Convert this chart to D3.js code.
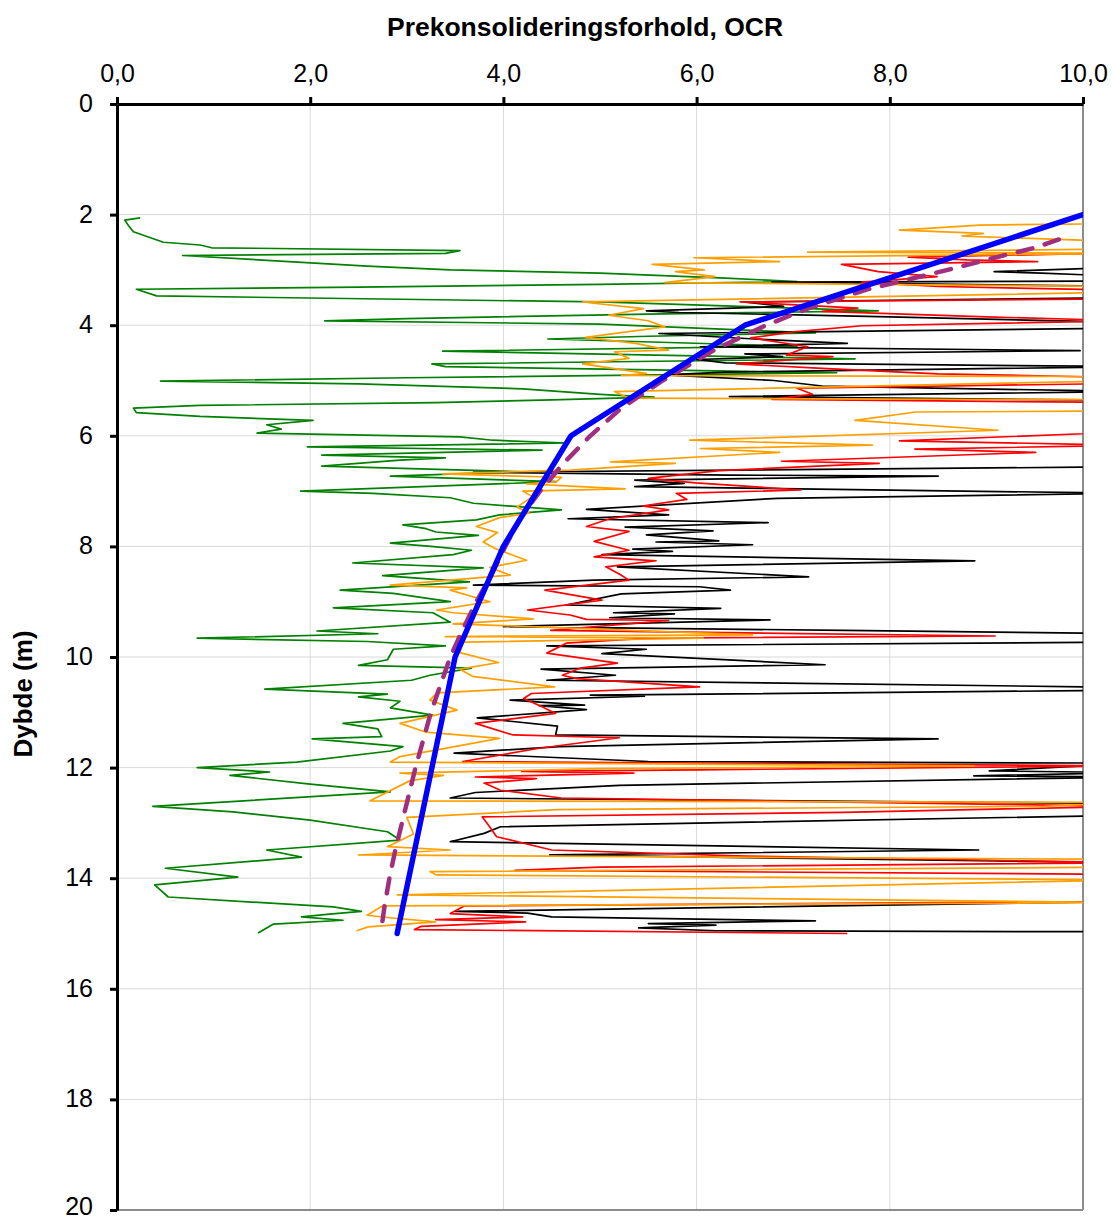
<!DOCTYPE html>
<html>
<head>
<meta charset="utf-8">
<script src="https://cdn.jsdelivr.net/npm/d3@7"></script>
<style>
  html, body { margin: 0; padding: 0; background: #fff; }
  svg { display: block; font-family: "Liberation Sans", Arial, sans-serif; }
</style>
</head>
<body>
<svg id="chart" width="1113" height="1220"></svg>
<script>
// ---- Data: [depth (m), OCR] ----
const ocrTicks = [0, 2, 4, 6, 8, 10];
const ocrTickLabels = ["0,0", "2,0", "4,0", "6,0", "8,0", "10,0"];
const depthTicks = [0, 2, 4, 6, 8, 10, 12, 14, 16, 18, 20];

const green = [
[2.06,0.24],[2.1,0.08],[2.2,0.12],[2.31,0.17],[2.5,0.48],[2.55,0.86],[2.6,0.98],[2.65,3.55],[2.7,3.4],[2.74,0.68],[2.93,2.59],[3.0,3.45],[3.06,5.0],[3.15,6.3],[3.21,7.04],[3.26,5.0],[3.31,2.5],[3.35,0.2],[3.47,0.41],[3.58,5.0],[3.74,7.88],[3.8,5.5],[3.88,3.0],[3.92,2.15],[3.98,5.0],[4.14,7.23],[4.2,5.5],[4.25,4.46],[4.38,7.04],[4.47,3.37],[4.61,7.64],[4.7,3.26],[4.75,3.4],[4.86,7.45],[4.95,3.0],[5.01,0.45],[5.06,2.5],[5.15,4.2],[5.25,5.0],[5.3,5.56],[5.35,4.5],[5.4,3.3],[5.45,0.86],[5.5,0.17],[5.58,0.2],[5.65,0.86],[5.72,2.03],[5.8,1.55],[5.88,1.7],[5.95,1.45],[6.02,3.55],[6.08,3.89],[6.13,4.66],[6.2,1.97],[6.26,4.4],[6.35,2.12],[6.4,3.4],[6.44,2.93],[6.55,2.12],[6.65,4.2],[6.73,2.83],[6.83,4.55],[7.0,1.9],[7.04,2.65],[7.12,3.45],[7.22,3.69],[7.34,4.6],[7.43,3.96],[7.52,3.72],[7.61,2.96],[7.68,3.2],[7.74,3.3],[7.8,3.74],[7.94,2.83],[8.0,3.25],[8.07,3.67],[8.15,3.48],[8.3,2.44],[8.39,3.79],[8.53,2.75],[8.64,3.65],[8.79,2.31],[8.85,2.86],[9.0,3.45],[9.11,2.24],[9.2,3.27],[9.37,3.45],[9.53,2.07],[9.58,2.7],[9.66,0.83],[9.72,2.59],[9.8,3.4],[9.86,2.86],[10.05,2.8],[10.15,2.5],[10.2,3.67],[10.33,3.24],[10.42,3.05],[10.58,1.53],[10.67,2.8],[10.72,2.5],[10.8,2.93],[10.92,2.83],[11.05,3.27],[11.2,2.34],[11.3,2.7],[11.44,2.74],[11.48,2.02],[11.62,2.96],[11.7,2.83],[11.9,1.86],[12.0,0.83],[12.08,1.58],[12.14,1.17],[12.3,2.0],[12.44,2.83],[12.7,0.37],[12.8,1.2],[12.95,2.0],[13.16,2.8],[13.31,2.93],[13.49,1.55],[13.62,1.91],[13.82,0.5],[13.98,1.25],[14.12,0.39],[14.34,0.53],[14.52,2.24],[14.6,2.53],[14.65,2.2],[14.7,1.91],[14.76,2.34],[14.83,1.62],[14.99,1.46]
];

const orange = [
[2.16,10.5],[2.19,8.93],[2.28,8.1],[2.34,8.97],[2.39,8.75],[2.46,9.97],[2.52,10.5],[2.62,10.5],[2.68,7.15],[2.7,10.5],[2.78,5.97],[2.85,6.86],[2.9,5.54],[3.0,6.08],[3.03,5.78],[3.12,6.19],[3.23,5.67],[3.3,10.5],[3.4,10.5],[3.58,4.82],[3.7,5.45],[3.82,5.09],[3.92,5.5],[4.03,5.67],[4.22,4.85],[4.33,5.37],[4.45,5.71],[4.48,5.15],[4.6,5.3],[4.7,4.82],[4.87,5.48],[4.91,5.22],[4.93,10.5],[5.0,10.5],[5.2,5.15],[5.32,5.3],[5.35,10.5],[5.55,10.5],[5.57,8.27],[5.72,7.64],[5.9,9.12],[6.08,5.93],[6.17,7.82],[6.23,6.04],[6.3,6.86],[6.47,5.11],[6.5,5.78],[6.62,4.69],[6.69,3.37],[6.75,4.6],[6.83,4.55],[6.87,4.24],[6.96,5.26],[7.0,4.2],[7.1,4.3],[7.29,4.14],[7.4,4.27],[7.48,3.96],[7.64,3.72],[7.75,3.94],[7.92,3.79],[8.05,3.93],[8.25,4.24],[8.38,3.86],[8.52,4.07],[8.7,2.83],[8.75,3.62],[8.79,3.45],[9.0,3.86],[9.15,3.31],[9.2,3.48],[9.31,4.31],[9.4,3.48],[9.44,4.14],[9.6,6.58],[9.63,3.4],[9.66,6.07],[9.73,3.58],[9.92,3.55],[10.1,3.95],[10.22,3.55],[10.35,3.68],[10.54,4.53],[10.65,3.31],[10.78,3.24],[10.96,3.52],[11.2,2.93],[11.36,3.2],[11.47,3.96],[11.8,2.93],[11.9,2.83],[11.97,8.87],[12.02,5.0],[12.1,2.93],[12.14,3.38],[12.24,3.03],[12.6,2.62],[12.63,10.5],[12.7,9.6],[12.76,4.56],[12.9,3.0],[13.2,3.07],[13.43,2.8],[13.49,3.45],[13.58,2.5],[13.66,10.5],[13.8,10.5],[13.88,3.24],[13.94,3.3],[14.03,10.5],[14.3,2.9],[14.44,10.5],[14.5,2.75],[14.67,2.59],[14.72,2.85],[14.79,3.3],[14.88,2.6],[14.95,2.48]
];

const red = [
[2.69,10.5],[2.77,8.19],[2.82,8.8],[2.85,9.53],[2.9,7.5],[3.03,7.88],[3.12,8.49],[3.22,7.71],[3.3,8.5],[3.37,10.5],[3.52,10.5],[3.58,6.45],[3.69,7.67],[3.75,7.3],[3.85,9.0],[3.92,10.5],[4.01,7.71],[4.12,7.0],[4.23,6.56],[4.39,7.15],[4.54,6.93],[4.57,7.41],[4.7,6.41],[4.78,7.3],[4.88,8.5],[4.95,10.5],[5.05,10.5],[5.14,7.04],[5.25,7.2],[5.34,6.78],[5.4,10.5],[5.93,10.5],[6.09,8.1],[6.17,10.5],[6.24,8.26],[6.3,9.51],[6.46,6.88],[6.5,7.89],[6.63,6.23],[6.77,5.5],[6.85,5.99],[6.98,7.08],[7.04,5.79],[7.15,5.9],[7.27,5.44],[7.34,5.71],[7.5,5.1],[7.64,4.86],[7.73,5.3],[7.91,4.94],[8.07,5.3],[8.19,4.94],[8.26,5.58],[8.37,5.06],[8.5,5.2],[8.61,5.3],[8.79,4.43],[8.97,5.02],[9.15,4.25],[9.24,4.69],[9.32,4.86],[9.34,5.71],[9.52,4.49],[9.62,9.09],[9.66,5.5],[9.75,4.65],[9.93,4.45],[10.11,5.18],[10.2,4.8],[10.33,4.61],[10.39,4.76],[10.54,6.03],[10.66,4.29],[10.75,4.21],[10.9,4.4],[11.02,4.54],[11.2,3.71],[11.41,4.1],[11.46,5.2],[11.65,4.37],[11.89,3.58],[11.97,10.5],[12.04,6.0],[12.07,4.19],[12.1,5.35],[12.17,3.71],[12.2,4.34],[12.28,3.8],[12.41,3.97],[12.55,4.6],[12.7,10.5],[12.81,7.52],[12.89,3.78],[13.05,3.85],[13.25,3.93],[13.49,4.5],[13.6,6.5],[13.72,10.5],[13.8,5.0],[13.86,4.12],[13.93,10.5],[14.42,10.5],[14.5,3.6],[14.64,3.45],[14.7,4.2],[14.75,3.3],[14.79,4.23],[14.87,3.15],[14.93,3.08],[15.0,7.56]
];

const black = [
[2.95,10.5],[3.03,9.08],[3.06,9.57],[3.12,10.5],[3.2,10.5],[3.22,6.78],[3.3,10.5],[3.5,10.5],[3.58,6.49],[3.66,6.9],[3.74,5.48],[3.77,5.82],[3.85,8.0],[3.95,10.5],[4.05,10.5],[4.15,5.61],[4.25,6.6],[4.33,7.56],[4.39,6.04],[4.46,9.97],[4.52,6.5],[4.57,6.89],[4.62,6.0],[4.68,6.3],[4.75,10.5],[4.85,6.3],[4.9,5.67],[5.0,6.8],[5.1,7.3],[5.2,10.5],[5.29,6.34],[5.36,10.5],[6.56,10.5],[6.66,3.69],[6.71,6.35],[6.73,8.5],[6.8,5.36],[6.86,5.87],[6.92,5.36],[7.04,10.5],[7.13,6.84],[7.33,4.86],[7.43,5.71],[7.5,4.67],[7.57,6.74],[7.65,5.26],[7.72,6.17],[7.79,5.48],[7.9,6.23],[7.92,5.58],[7.97,6.58],[8.05,5.34],[8.09,5.75],[8.15,5.02],[8.26,8.88],[8.37,5.18],[8.55,7.16],[8.61,4.94],[8.7,3.69],[8.73,6.03],[8.79,6.35],[8.86,5.22],[9.06,4.65],[9.12,6.25],[9.2,5.14],[9.22,5.77],[9.29,5.1],[9.33,6.76],[9.45,4.0],[9.52,7.53],[9.58,10.5],[9.73,10.5],[9.8,4.45],[9.86,5.48],[9.94,5.02],[10.14,7.33],[10.22,4.39],[10.33,5.16],[10.42,4.45],[10.55,10.5],[10.6,10.5],[10.69,4.9],[10.71,5.46],[10.78,4.07],[10.87,4.84],[10.88,4.37],[10.95,4.86],[11.1,3.73],[11.25,4.56],[11.41,4.54],[11.48,8.5],[11.62,4.58],[11.74,3.49],[11.89,5.5],[11.92,10.5],[12.06,9.03],[12.09,10.5],[12.15,8.87],[12.17,10.5],[12.32,5.2],[12.45,3.71],[12.55,3.45],[12.65,10.5],[12.86,10.5],[13.07,3.97],[13.19,3.8],[13.34,3.45],[13.49,8.92],[13.58,4.48],[13.72,10.5],[14.42,10.5],[14.6,3.5],[14.63,4.25],[14.7,4.5],[14.77,7.23],[14.82,5.5],[14.85,6.2],[14.9,5.4],[14.95,6.2],[14.97,10.5]
];

const purple = [
[2.45,9.75],[2.6,9.5],[2.75,9.15],[3.0,8.6],[3.36,7.75],[3.7,7.15],[4.0,6.72],[4.45,6.18],[5.0,5.65],[5.5,5.22],[6.0,4.9],[6.5,4.62],[7.0,4.38],[7.5,4.17],[8.0,4.02],[8.5,3.88],[9.0,3.72],[9.5,3.58],[10.0,3.45],[10.5,3.35],[11.0,3.25],[11.5,3.17],[12.0,3.09],[12.5,3.02],[13.0,2.95],[13.5,2.88],[14.0,2.82],[14.5,2.77],[15.0,2.73]
];

const blue = [[2, 10], [4, 6.5], [6, 4.7], [8, 4.0], [10, 3.5], [15, 2.9]];

// ---- Chart ----
(function () {
const svg = d3.select("#chart");
const pL = 117, pR = 1083, pT = 104, pB = 1210;
const x = d3.scaleLinear().domain([0, 10]).range([pL, pR]);
const y = d3.scaleLinear().domain([0, 20]).range([pT, pB]);

svg.append("rect").attr("width", 1113).attr("height", 1220).attr("fill", "#fff");

svg.append("defs").append("clipPath").attr("id", "plotClip")
  .append("rect").attr("x", pL).attr("y", pT)
  .attr("width", pR - pL).attr("height", pB - pT);

// gridlines
const grid = svg.append("g").attr("stroke", "#d9d9d9").attr("stroke-width", 1);
grid.selectAll("line.v").data(ocrTicks.filter(d => d > 0 && d < 10)).join("line")
  .attr("class", "v")
  .attr("x1", d => x(d)).attr("x2", d => x(d)).attr("y1", pT).attr("y2", pB);
grid.selectAll("line.h").data(depthTicks.filter(d => d > 0 && d < 20)).join("line")
  .attr("class", "h")
  .attr("x1", pL).attr("x2", pR).attr("y1", d => y(d)).attr("y2", d => y(d));

// border right/bottom
svg.append("line").attr("x1", pR).attr("x2", pR).attr("y1", pT).attr("y2", pB)
  .attr("stroke", "#8c8c8c").attr("stroke-width", 2);
svg.append("line").attr("x1", pL).attr("x2", pR).attr("y1", pB).attr("y2", pB)
  .attr("stroke", "#8c8c8c").attr("stroke-width", 2);

const line = d3.line().x(p => x(p[1])).y(p => y(p[0]));
const plot = svg.append("g").attr("clip-path", "url(#plotClip)");

const series = [
  { data: green, color: "#008000", w: 1.7 },
  { data: black, color: "#000000", w: 1.7 },
  { data: red, color: "#ff0000", w: 1.7 },
  { data: orange, color: "#ffa000", w: 1.7 }
];
series.forEach(s => {
  plot.append("path").datum(s.data).attr("d", line)
    .attr("fill", "none").attr("stroke", s.color).attr("stroke-width", s.w)
    .attr("stroke-linejoin", "round");
});

plot.append("path").datum(purple).attr("d", line)
  .attr("fill", "none").attr("stroke", "#a0307f").attr("stroke-width", 4.5)
  .attr("stroke-dasharray", "15,13").attr("stroke-linecap", "round");

plot.append("path").datum(blue).attr("d", line)
  .attr("fill", "none").attr("stroke", "#0000ff").attr("stroke-width", 5.5)
  .attr("stroke-linecap", "round").attr("stroke-linejoin", "round");

// axes
const xAxis = d3.axisTop(x).tickValues(ocrTicks)
  .tickFormat((d, i) => ocrTickLabels[i]).tickSize(7).tickSizeOuter(0).tickPadding(15);
const gx = svg.append("g").attr("transform", `translate(0,${pT})`).call(xAxis);

const yAxis = d3.axisLeft(y).tickValues(depthTicks).tickSize(7).tickSizeOuter(0).tickPadding(17);
const gy = svg.append("g").attr("transform", `translate(${pL},0)`).call(yAxis);

[gx, gy].forEach(g => {
  g.select(".domain").attr("stroke", "#000").attr("stroke-width", 3);
  g.selectAll(".tick line").attr("stroke", "#000").attr("stroke-width", 3);
  g.selectAll(".tick text").attr("fill", "#000")
    .style("font-family", '"Liberation Sans", Arial, sans-serif').style("font-size", "25px");
});
gy.selectAll(".tick text").attr("dy", d => d === 20 ? "0.16em" : "0.3em");

// titles
svg.append("text").attr("x", 585).attr("y", 36).attr("text-anchor", "middle")
  .style("font-size", "26.5px").style("font-weight", "bold")
  .text("Prekonsolideringsforhold, OCR");

svg.append("text").attr("transform", "translate(32,694) rotate(-90)")
  .attr("text-anchor", "middle")
  .style("font-size", "26px").style("font-weight", "bold")
  .text("Dybde (m)");
})();
</script>
</body>
</html>
